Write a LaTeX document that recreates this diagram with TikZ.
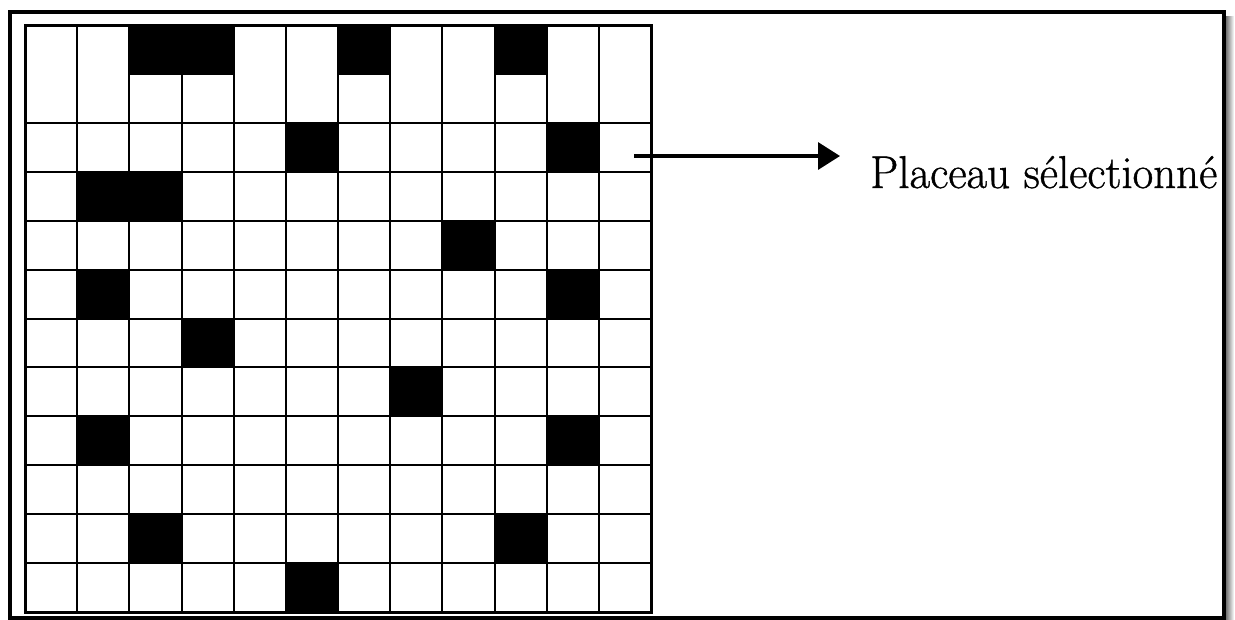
\documentclass[tikz,border=0pt]{standalone}
\usepackage{fontspec}
\newfontfamily\lblfont{Latin Modern Roman}[FakeBold=0.9]
\usetikzlibrary{arrows.meta}
\begin{document}
\begin{tikzpicture}[x=1pt,y=-1pt,
  gridline/.style={line width=2pt,black},
  gridborder/.style={line width=3pt,black},
  frameline/.style={line width=4pt,black},
  blackcell/.style={fill=black,draw=black,line width=2pt},
  pointer/.style={line width=3.4pt,-{Triangle[length=22pt,width=27pt]}},
  labeltext/.style={inner sep=0pt,anchor=base west,font=\lblfont\fontsize{46}{46}\selectfont}]
\useasboundingbox (0,0) rectangle (1235,619);
\fill[white] (0,0) rectangle (1235,619);
% shadow of frame
\shade[left color=black!55,right color=white] (1226,16) rectangle (1234,619);
% outer frame
\draw[frameline] (10,11.5) rectangle (1224,617.5);
\def\gx{25}\def\gy{25}\def\cw{52.1667}\def\rh{48.917}
% black cells: top row (half height)
\foreach \c in {3,4,7,10}
  \draw[blackcell] ({\gx+(\c-1)*\cw},{\gy}) rectangle ({\gx+\c*\cw},{\gy+\rh});
% black cells: other rows
\foreach \c/\r in {6/2,11/2,2/3,3/3,9/4,2/5,11/5,4/6,8/7,2/8,11/8,3/10,10/10,6/11}
  \draw[blackcell] ({\gx+(\c-1)*\cw},{\gy+\r*\rh}) rectangle ({\gx+\c*\cw},{\gy+(\r+1)*\rh});
% vertical grid lines
\foreach \i in {1,...,11}
  \draw[gridline] ({\gx+\i*\cw},{\gy}) -- ({\gx+\i*\cw},{\gy+12*\rh});
% horizontal grid lines
\foreach \j in {2,...,11}
  \draw[gridline] ({\gx},{\gy+\j*\rh}) -- ({\gx+12*\cw},{\gy+\j*\rh});
% grid border
\draw[gridborder] ({\gx},{\gy}) rectangle ({\gx+12*\cw},{\gy+12*\rh});
% arrow and label
\coordinate (s) at (634,156);
\coordinate (t) at (840,156);
\node[labeltext] (lbl) at (870,188) {\scalebox{0.975}[1]{Placeau sélectionné}};
\draw[pointer] (s) -- (t);
\end{tikzpicture}
\end{document}
